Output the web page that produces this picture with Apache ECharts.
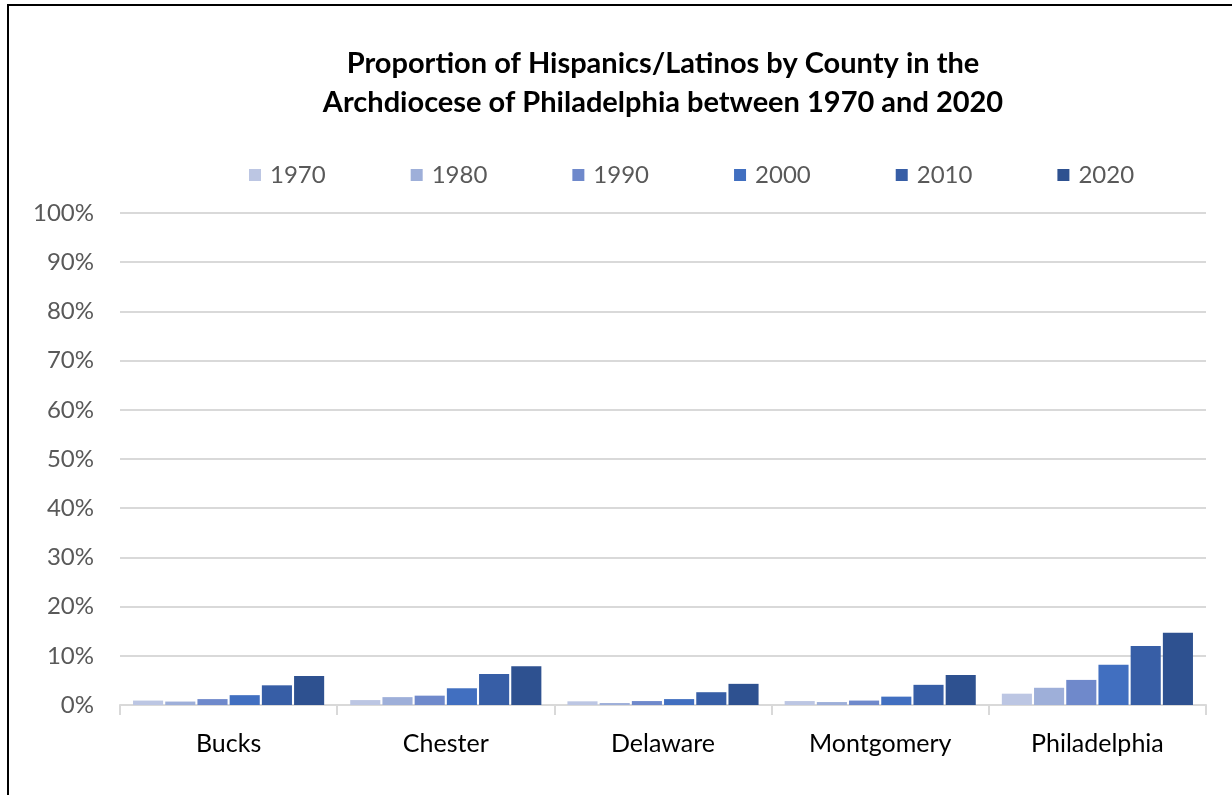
<!DOCTYPE html>
<html>
<head>
<meta charset="utf-8">
<script src="https://cdn.jsdelivr.net/npm/echarts@6/dist/echarts.min.js"></script>
<style>
  html, body { margin: 0; padding: 0; background: #fff; }
  #chart { width: 1232px; height: 795px; }
</style>
</head>
<body>
<div id="chart"></div>
<script>
// Counties in the Archdiocese of Philadelphia
const counties = ['Bucks', 'Chester', 'Delaware', 'Montgomery', 'Philadelphia'];
// Census years (one series each)
const years = ['1970', '1980', '1990', '2000', '2010', '2020'];
// Hispanic/Latino share of population, percent, per county
const share1970 = [0.9, 1.0, 0.75, 0.8, 2.3];
const share1980 = [0.7, 1.6, 0.4, 0.6, 3.5];
const share1990 = [1.2, 1.9, 0.8, 0.9, 5.1];
const share2000 = [2.0, 3.4, 1.2, 1.7, 8.2];
const share2010 = [4.0, 6.3, 2.6, 4.1, 12.0];
const share2020 = [5.9, 7.9, 4.3, 6.1, 14.7];
// Y axis ticks (percent)
const yTicks = { min: 0, max: 100, step: 10 };

const seriesValues = [share1970, share1980, share1990, share2000, share2010, share2020];
const colors = ['#BCC6E3', '#9EAFD9', '#6F89CB', '#416FC0', '#375EA6', '#2E5190'];

const FONT = 'Lato, "Open Sans", sans-serif';

const chart = echarts.init(document.getElementById('chart'));
chart.setOption({
  animation: false,
  backgroundColor: '#ffffff',
  color: colors,
  title: {
    text: 'Proportion of Hispanics/Latinos by County in the\nArchdiocese of Philadelphia between 1970 and 2020',
    left: 658,
    textAlign: 'center',
    top: 39,
    textStyle: {
      fontFamily: FONT,
      fontWeight: 'bold',
      fontSize: 29,
      lineHeight: 39,
      color: '#000000'
    }
  },
  legend: {
    data: years,
    left: 244,
    top: 158,
    icon: 'rect',
    itemWidth: 12,
    itemHeight: 12,
    itemGap: 85,
    textStyle: {
      fontFamily: FONT,
      fontSize: 24,
      color: '#595959',
      padding: [0, 0, 0, 4]
    }
  },
  grid: {
    left: 120,
    right: 26,
    top: 213,
    bottom: 90,
    containLabel: false
  },
  xAxis: {
    type: 'category',
    data: counties,
    axisLine: { lineStyle: { color: '#d9d9d9', width: 2 } },
    axisTick: { show: true, length: 10, interval: 0, lineStyle: { color: '#d9d9d9', width: 2 } },
    axisLabel: {
      fontFamily: FONT,
      fontSize: 25,
      color: '#000000',
      margin: 26
    }
  },
  yAxis: {
    type: 'value',
    min: yTicks.min,
    max: yTicks.max,
    interval: yTicks.step,
    axisLine: { show: false },
    axisTick: { show: false },
    splitLine: { lineStyle: { color: '#d9d9d9', width: 2 } },
    axisLabel: {
      fontFamily: FONT,
      fontSize: 24,
      color: '#595959',
      margin: 26,
      formatter: '{value}%'
    }
  },
  graphic: [{
    type: 'rect',
    silent: true,
    z: 100,
    shape: { x: 8, y: 5, width: 1400, height: 1000 },
    style: { fill: 'none', stroke: '#000000', lineWidth: 2 }
  }],
  series: years.map((y, i) => ({
    name: y,
    type: 'bar',
    data: seriesValues[i],
    barGap: '7%',
    barCategoryGap: '12%',
    itemStyle: { color: colors[i] }
  }))
});
</script>
</body>
</html>
